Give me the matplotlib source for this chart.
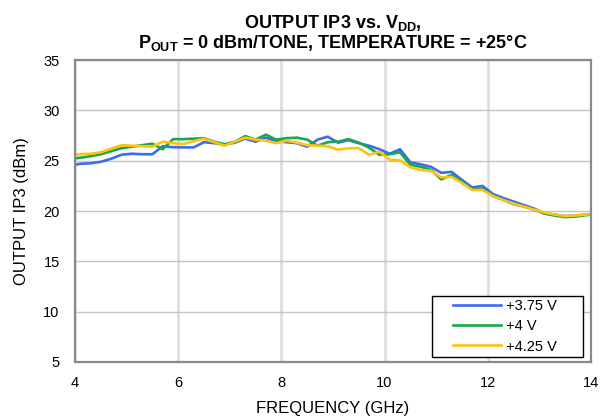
import matplotlib
matplotlib.use("Agg")
import matplotlib.pyplot as plt
from matplotlib.patches import Rectangle

plt.rcParams['font.family'] = ['Liberation Sans', 'DejaVu Sans']
plt.rcParams['mathtext.fontset'] = 'custom'
plt.rcParams['mathtext.rm'] = 'Liberation Sans'
plt.rcParams['mathtext.bf'] = 'Liberation Sans:bold'

freq = [4.0, 4.1, 4.3, 4.5, 4.7, 4.9, 5.1, 5.3, 5.5, 5.7, 5.9, 6.1, 6.3, 6.5, 6.7, 6.9,
        7.1, 7.3, 7.5, 7.7, 7.9, 8.1, 8.3, 8.5, 8.7, 8.9, 9.1, 9.3, 9.5, 9.7, 9.9,
        10.1, 10.3, 10.5, 10.7, 10.9, 11.1, 11.3, 11.5, 11.7, 11.9, 12.1, 12.3, 12.5,
        12.7, 12.9, 13.1, 13.3, 13.5, 13.7, 13.9, 14.0]

oip3_375 = [24.6, 24.7, 24.75, 24.9, 25.2, 25.6, 25.7, 25.65, 25.65, 26.45, 26.35, 26.33,
            26.33, 26.85, 26.75, 26.6, 26.8, 27.2, 26.9, 27.3, 26.95, 26.85, 26.75, 26.4,
            27.1, 27.4, 26.8, 27.05, 26.75, 26.5, 26.15, 25.7, 26.15, 24.85, 24.65, 24.4,
            23.8, 23.9, 23.1, 22.35, 22.5, 21.7, 21.3, 20.95, 20.6, 20.25, 19.75, 19.65,
            19.5, 19.55, 19.65, 19.7]

oip3_400 = [25.25, 25.3, 25.45, 25.65, 25.95, 26.25, 26.4, 26.55, 26.7, 26.15, 27.15, 27.15,
            27.2, 27.25, 26.9, 26.65, 26.9, 27.45, 27.1, 27.6, 27.1, 27.25, 27.3, 27.1,
            26.5, 26.85, 26.9, 27.15, 26.8, 26.3, 25.6, 25.65, 25.85, 24.6, 24.4, 24.1,
            23.15, 23.6, 22.9, 22.15, 22.25, 21.5, 21.1, 20.7, 20.45, 20.15, 19.75, 19.55,
            19.4, 19.45, 19.6, 19.65]

oip3_425 = [25.6, 25.65, 25.7, 25.85, 26.2, 26.55, 26.5, 26.45, 26.4, 26.9, 26.75, 26.65,
            26.95, 27.2, 26.85, 26.5, 26.9, 27.3, 27.1, 27.0, 26.75, 27.0, 26.8, 26.55,
            26.5, 26.45, 26.1, 26.25, 26.25, 25.6, 25.9, 25.1, 25.05, 24.35, 24.1, 24.0,
            23.35, 23.4, 22.8, 22.1, 22.1, 21.5, 21.1, 20.75, 20.45, 20.15, 19.85, 19.65,
            19.5, 19.55, 19.65, 19.7]

labels = ['+3.75 V', '+4 V', '+4.25 V']
colors = ['#3d6cf2', '#17a84a', '#ffc20e']

fig = plt.figure(figsize=(6.13, 4.18), dpi=100)
ax = fig.add_axes([0.1223, 0.134, 0.8417, 0.722])

for y, lab, c in zip([oip3_375, oip3_400, oip3_425], labels, colors):
    ax.plot(freq, y, color=c, lw=1.9, label=lab)

ax.set_xlim(4, 14)
ax.set_ylim(5, 35)
ax.set_xticks([4, 6, 8, 10, 12, 14])
ax.set_yticks([5, 10, 15, 20, 25, 30, 35])
ax.tick_params(length=0, labelsize=10.5)
ax.tick_params(axis='y', pad=11)
ax.tick_params(axis='x', pad=10)
ax.xaxis.grid(True, color='#dadada', lw=1.8)
ax.yaxis.grid(True, color='#c4c4c4', lw=1.0)
ax.set_axisbelow(True)
for s in ax.spines.values():
    s.set_color('#8a8a8a')
    s.set_linewidth(1.6)

ax.set_xlabel('FREQUENCY (GHz)', fontsize=12, labelpad=8)
ax.set_ylabel('OUTPUT IP3 (dBm)', fontsize=12, labelpad=10)
ax.set_title('OUTPUT IP3 vs. V$_{\\mathbf{DD}}$,\nP$_{\\mathbf{OUT}}$ = 0 dBm/TONE, TEMPERATURE = +25°C',
             fontsize=13, fontweight='bold', pad=9, linespacing=0.95)

# legend box drawn separately: the original has wide side margins
ax.add_patch(Rectangle((0.692, 0.0166), 0.2926, 0.202, transform=ax.transAxes,
                       facecolor='white', edgecolor='black', lw=1.0, zorder=4.5))
leg = ax.legend(loc='lower right', bbox_to_anchor=(0.934, 0.028), fontsize=10.5,
                frameon=False, handlelength=3.3, borderaxespad=0, borderpad=0,
                labelspacing=0.42, handletextpad=0.35)
leg.set_zorder(5)

fig.savefig('out.png', dpi=100)
